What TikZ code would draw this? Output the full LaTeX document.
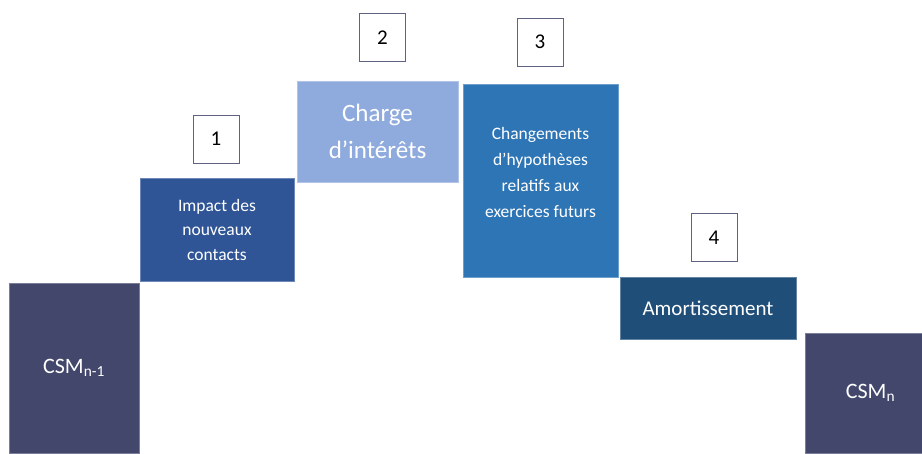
\documentclass[tikz,border=0pt]{standalone}
\usepackage{fontspec}
\setmainfont{Carlito}
\usetikzlibrary{positioning}
\definecolor{csmblue}{HTML}{43476C}
\definecolor{impblue}{HTML}{2F5597}
\definecolor{chgblue}{HTML}{8FAADC}
\definecolor{hypblue}{HTML}{2E75B6}
\definecolor{amoblue}{HTML}{1F4E79}
\begin{document}
\begin{tikzpicture}[x=1pt, y=-1pt,
   bar/.style={rectangle, fill=#1, draw=#1!70!white, line width=0.6pt,
      text=white, align=center, inner sep=0pt},
   num/.style={rectangle, draw=csmblue!85, line width=0.7pt, fill=white,
      minimum width=46pt, minimum height=48pt, font=\fontsize{21}{24}\selectfont}]
   \useasboundingbox (0,0) rectangle (922,453);
   % bars, left to right
   \node (csm0) at (74,368) [bar=csmblue, minimum width=130pt, minimum height=170pt,
      font=\fontsize{22}{26}\selectfont] {CSM\textsubscript{n-1}};
   \node (imp) at (217,229.5) [bar=impblue, minimum width=154pt, minimum height=103pt,
      font=\fontsize{17.5}{24.5}\selectfont] {Impact des\\nouveaux\\contacts};
   \node (chg) at (377.5,131.5) [bar=chgblue, minimum width=161pt, minimum height=101pt,
      font=\fontsize{25}{37}\selectfont] {Charge\\d’intérêts};
   \node (hyp) at (540.5,180.5) [bar=hypblue, minimum width=155pt, minimum height=193pt] {};
   \node (hyptext) at ([yshift=8pt]hyp.center) [text=white, align=center,
      font=\fontsize{17.5}{26}\selectfont] {Changements\\d’hypothèses\\relatifs aux\\exercices futurs};
   \node (amo) at (708,308) [bar=amoblue, minimum width=176pt, minimum height=62pt,
      font=\fontsize{21}{26}\selectfont] {Amortissement};
   \node (csm1) at (863.5,393) [bar=csmblue, minimum width=117pt, minimum height=120pt,
      font=\fontsize{22}{26}\selectfont] {\hspace*{14pt}CSM\textsubscript{n}};
   % step numbers
   \node (n1) at (216,139) [num] {1};
   \node (n2) at (382.5,37.5) [num] {2};
   \node (n3) at (540,42) [num] {3};
   \node (n4) at (714,237.5) [num] {4};
\end{tikzpicture}
\end{document}
